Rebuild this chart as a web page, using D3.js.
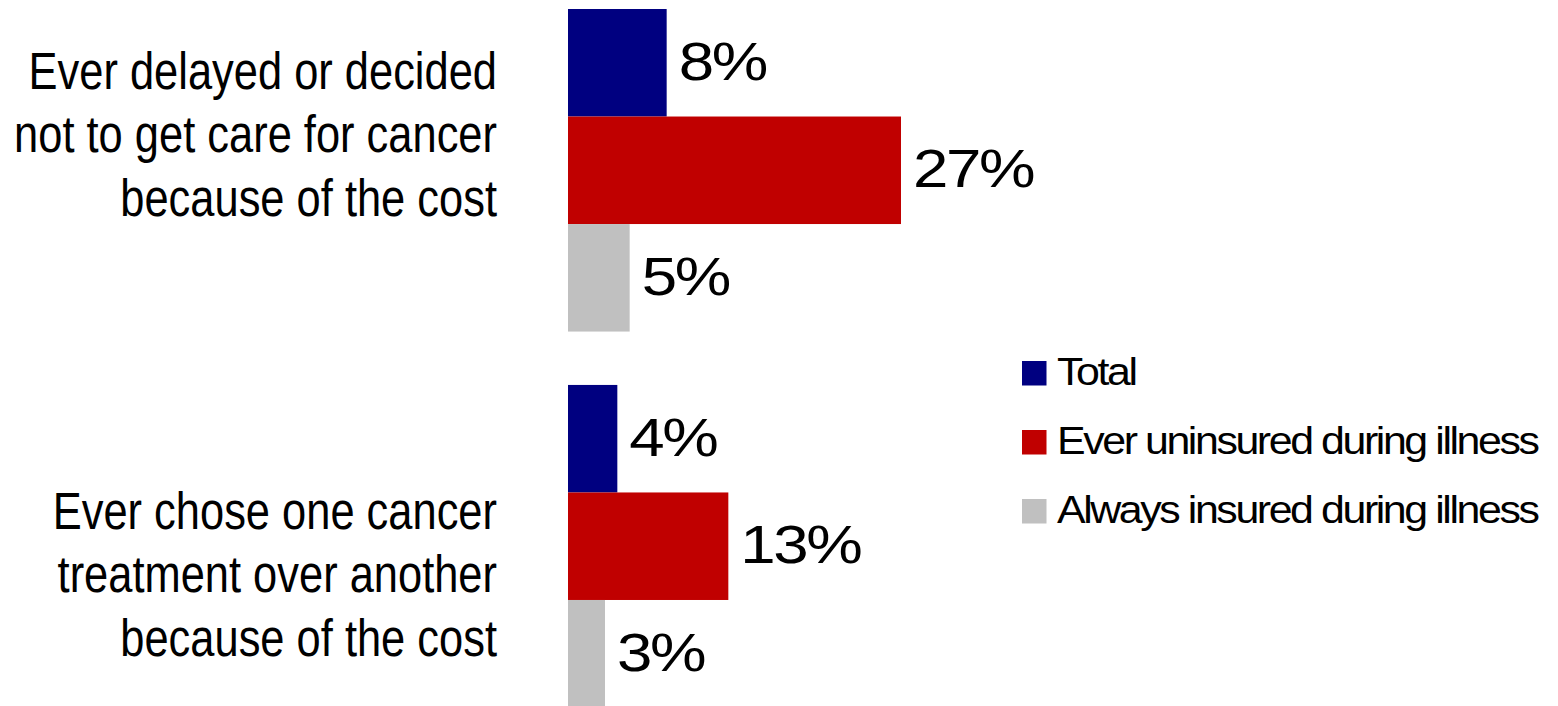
<!DOCTYPE html>
<html>
<head>
<meta charset="utf-8">
<script src="https://cdn.jsdelivr.net/npm/d3@7"></script>
<style>
  html, body { margin: 0; padding: 0; background: #fff; }
  svg { display: block; }
</style>
</head>
<body>
<svg id="chart" width="1558" height="706"></svg>
<script>
// ---- data ----
const categories = [
  "Ever delayed or decided not to get care for cancer because of the cost",
  "Ever chose one cancer treatment over another because of the cost"
];
const categoryLines = [
  ["Ever delayed or decided", "not to get care for cancer", "because of the cost"],
  ["Ever chose one cancer", "treatment over another", "because of the cost"]
];
const seriesNames = ["Total", "Ever uninsured during illness", "Always insured during illness"];
const totalValues = [8, 4];
const uninsuredValues = [27, 13];
const insuredValues = [5, 3];
const seriesColors = ["#000080", "#C00000", "#C0C0C0"];

const seriesValues = [totalValues, uninsuredValues, insuredValues];

// ---- layout ----
const svg = d3.select("#chart");

const x = d3.scaleLinear().domain([0, 27]).range([568, 901]);
const yGroup = d3.scaleBand().domain(categories).range([9, 707.5]).paddingInner(0.142).paddingOuter(0);
const ySeries = d3.scaleBand().domain(seriesNames).range([0, yGroup.bandwidth()]).padding(0);

const rows = [];
categories.forEach((c, ci) => {
  seriesNames.forEach((s, si) => {
    rows.push({cat: c, ci, series: s, si, value: seriesValues[si][ci]});
  });
});

const g = svg.append("g");

g.selectAll("rect.bar")
  .data(rows)
  .join("rect")
  .attr("class", "bar")
  .attr("x", x(0))
  .attr("y", d => yGroup(d.cat) + ySeries(d.series))
  .attr("width", d => x(d.value) - x(0))
  .attr("height", ySeries.bandwidth())
  .attr("fill", d => seriesColors[d.si]);

// value labels
const valScale = 1.2;
g.selectAll("text.val")
  .data(rows)
  .join("text")
  .attr("class", "val")
  .attr("transform", d => {
    const cx = x(d.value) + 12;
    const cy = yGroup(d.cat) + ySeries(d.series) + ySeries.bandwidth() / 2 + 17;
    return `translate(${cx},${cy}) scale(${valScale},1)`;
  })
  .attr("font-family", "'Liberation Sans', Arial, sans-serif")
  .attr("font-size", 53)
  .attr("letter-spacing", "-2px")
  .attr("fill", "#000")
  .text(d => d.value + "%");

// category labels (condensed)
const labelOffsets = [-18, 46]; // middle-line baseline offset from group center
const lineH = 63.5;
categories.forEach((c, ci) => {
  const mid = yGroup(c) + yGroup.bandwidth() / 2 + labelOffsets[ci];
  const lines = categoryLines[ci];
  lines.forEach((ln, li) => {
    const by = mid + (li - (lines.length - 1) / 2) * lineH;
    g.append("text")
      .attr("text-anchor", "end")
      .attr("fill", "#000")
      .attr("font-family", "'Liberation Sans', Arial, sans-serif")
      .attr("font-size", 51)
      .attr("transform", `translate(497,${by}) scale(0.852,1)`)
      .text(ln);
  });
});

// legend
const legendY = d3.scalePoint().domain(seriesNames).range([361, 499]);
const items = g.selectAll("g.item").data(seriesNames).join("g").attr("class", "item")
  .attr("transform", d => `translate(1022,${legendY(d)})`);
items.append("rect").attr("width", 24.5).attr("height", 24.5)
  .attr("fill", (d, i) => seriesColors[i]);
items.append("text")
  .attr("transform", "translate(35,23.5) scale(1.1,1)")
  .attr("font-family", "'Liberation Sans', Arial, sans-serif")
  .attr("font-size", 39)
  .attr("letter-spacing", "-2.2px")
  .attr("fill", "#000")
  .text(d => d);
</script>
</body>
</html>
